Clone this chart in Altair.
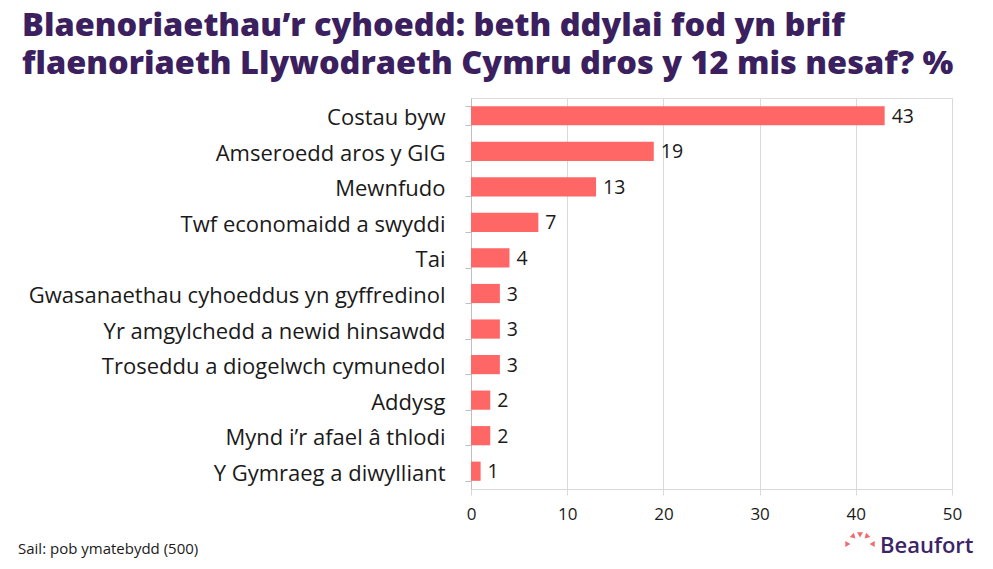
import altair as alt
import pandas as pd

categories = [
    "Costau byw",
    "Amseroedd aros y GIG",
    "Mewnfudo",
    "Twf economaidd a swyddi",
    "Tai",
    "Gwasanaethau cyhoeddus yn gyffredinol",
    "Yr amgylchedd a newid hinsawdd",
    "Troseddu a diogelwch cymunedol",
    "Addysg",
    "Mynd i’r afael â thlodi",
    "Y Gymraeg a diwylliant",
]
values = [43, 19, 13, 7, 4, 3, 3, 3, 2, 2, 1]
x_ticks = [0, 10, 20, 30, 40, 50]

title_lines = [
    "Blaenoriaethau’r cyhoedd: beth ddylai fod yn brif",
    "flaenoriaeth Llywodraeth Cymru dros y 12 mis nesaf? %",
]
source_text = ["Sail: pob ymatebydd (500)"]
brand_text = ["Beaufort"]

# logo decoration (pixel offsets relative to the plot origin)
logo_px = [376, 382, 389, 396, 402]
logo_py = [446, 438, 436, 438, 446]
logo_angle = [90, 135, 180, 225, 270]

df = pd.DataFrame({"cat": categories, "val": values})

y_enc = alt.Y(
    "cat:N",
    sort=categories,
    title=None,
    scale=alt.Scale(paddingInner=0.46, paddingOuter=0.23),
    axis=alt.Axis(
        labelFontSize=22,
        labelColor="#1a1a1a",
        labelFont="Open Sans",
        labelPadding=20,
        labelOffset=2,
        tickBand="extent",
        tickSize=6,
        tickColor="#bfbfbf",
        domainColor="#bfbfbf",
        labelLimit=500,
    ),
)
x_enc = alt.X(
    "val:Q",
    title=None,
    scale=alt.Scale(domain=[0, 50]),
    axis=alt.Axis(
        values=x_ticks,
        grid=True,
        gridColor="#d9d9d9",
        domainColor="#d9d9d9",
        tickColor="#d9d9d9",
        tickSize=6,
        labelFontSize=17,
        labelColor="#1a1a1a",
        labelFont="Open Sans",
        labelPadding=11,
        labelFlush=False,
    ),
)

base = alt.Chart(df).encode(y=y_enc, x=x_enc)
bars = base.mark_bar(color="#ff6666")
labels = base.mark_text(
    align="left", baseline="middle", dx=7, dy=1, fontSize=19.5, font="Open Sans", color="#1a1a1a"
).encode(text="val:Q")

source = alt.Chart(pd.DataFrame({"t": source_text})).mark_text(
    align="left", baseline="middle", fontSize=15, font="Open Sans", color="#1a1a1a"
).encode(text="t:N", x=alt.value(-453), y=alt.value(451))

brand = alt.Chart(pd.DataFrame({"t": brand_text})).mark_text(
    align="left", baseline="middle", fontSize=22, font="Open Sans", fontWeight=600, color="#3d2468"
).encode(text="t:N", x=alt.value(409), y=alt.value(448))

logo = alt.Chart(
    pd.DataFrame({"px": logo_px, "py": logo_py, "ang": logo_angle})
).mark_point(shape="triangle", filled=True, opacity=1, color="#f26a6a", size=35).encode(
    x=alt.X("px:Q", scale=None),
    y=alt.Y("py:Q", scale=None),
    angle=alt.Angle("ang:Q", scale=None),
)

chart = (
    alt.layer(bars, labels, source, brand, logo)
    .properties(
        width=481,
        height=391,
        padding={"left": 463, "top": 90, "right": 33, "bottom": 72},
        autosize=alt.AutoSizeParams(type="none"),
        title=alt.TitleParams(
            text=title_lines,
            anchor="start",
            frame="group",
            dx=-449,
            offset=7,
            fontSize=32.5,
            font="Open Sans",
            fontWeight=800,
            color="#3b1f5e",
            lineHeight=38,
        ),
    )
    .configure_view(stroke=None)
    .configure(background="white")
)

chart.save("out.html", embed_options={"renderer": "svg", "actions": False})
